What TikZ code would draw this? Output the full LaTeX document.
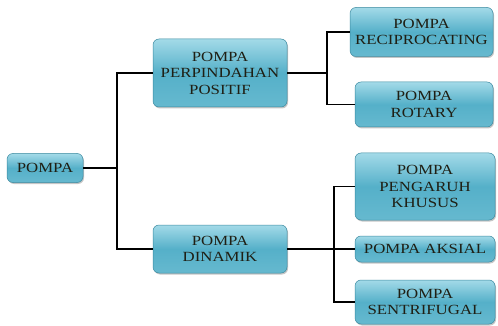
\documentclass[tikz,border=0pt]{standalone}
\usepackage{fontspec}
\setmainfont{Liberation Serif}[FakeStretch=1.2]
\usetikzlibrary{shadows}
\definecolor{boxtop}{HTML}{A3DAE8}
\definecolor{boxmid}{HTML}{55B0C9}
\definecolor{boxbot}{HTML}{66B9CF}
\definecolor{boxline}{HTML}{3B8AA0}
\definecolor{ink}{HTML}{1F1F14}
\begin{document}
\begin{tikzpicture}[x=1pt, y=-1pt,
  box/.style={rounded corners=6pt, draw=boxline, line width=0.5pt,
    top color=boxtop, bottom color=boxbot, middle color=boxmid,
    drop shadow={shadow xshift=1pt, shadow yshift=-1.5pt, opacity=0.45},
    inner sep=0pt, align=center, text=ink,
    font=\fontsize{14}{16.5}\selectfont},
  link/.style={line width=1.3pt, black}]
  \useasboundingbox (0,0) rectangle (498,326);
  % root and first level
  \node[box, minimum width=76pt, minimum height=29pt] (pompa) at (45,168) {POMPA};
  \node[box, minimum width=134pt, minimum height=68pt] (perpindahan) at (220,73) {POMPA\\PERPINDAHAN\\POSITIF};
  \node[box, minimum width=134pt, minimum height=48pt] (dinamik) at (220,249) {POMPA\\DINAMIK};
  % second level
  \node[box, minimum width=143pt, minimum height=49pt] (reciprocating) at (421.5,32) {POMPA\\RECIPROCATING};
  \node[box, minimum width=138pt, minimum height=45pt] (rotary) at (424,104.5) {POMPA\\ROTARY};
  \node[box, minimum width=140pt, minimum height=67pt] (khusus) at (425,186.5) {POMPA\\PENGARUH\\KHUSUS};
  \node[box, minimum width=140pt, minimum height=26pt] (aksial) at (425,249) {POMPA AKSIAL};
  \node[box, minimum width=140pt, minimum height=44pt] (sentrifugal) at (425,302) {POMPA\\SENTRIFUGAL};
  % junctions
  \coordinate (j1) at (117,168);
  \coordinate (j2) at (327,73);
  \coordinate (j3) at (334,249);
  % connectors
  \draw[link] (pompa.east) -- (j1) |- (perpindahan.west);
  \draw[link] (j1) |- (dinamik.west);
  \draw[link] (perpindahan.east) -- (j2) |- (reciprocating.west);
  \draw[link] (j2) |- (rotary.west);
  \draw[link] (dinamik.east) -- (j3) |- (khusus.west);
  \draw[link] (j3) -- (aksial.west);
  \draw[link] (j3) |- (sentrifugal.west);
\end{tikzpicture}
\end{document}
